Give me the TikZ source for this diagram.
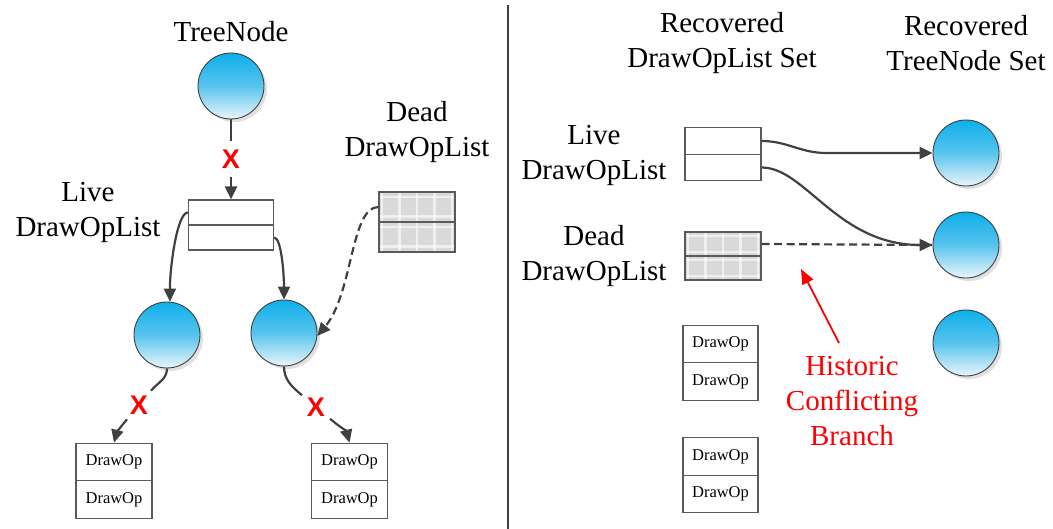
\documentclass[tikz,border=0pt]{standalone}
\usepackage{fontspec}
\setmainfont{Liberation Serif}
\newfontfamily\markfont{Liberation Sans}
\usetikzlibrary{arrows.meta,shadows,calc}

\definecolor{edgegray}{HTML}{404040}
\definecolor{boxgray}{HTML}{5A5A5A}
\definecolor{deadfill}{HTML}{D9D9D9}
\definecolor{nodetop}{HTML}{0DAFEA}
\definecolor{nodemid}{HTML}{58C4EE}
\definecolor{nodebot}{HTML}{EAF5FA}

\tikzset{
  headtext/.style={align=center, font=\fontsize{29}{35}\selectfont, inner sep=0pt},
  redtext/.style={headtext, text=red},
  treenode/.style={circle, minimum size=66pt, inner sep=0pt, draw=edgegray,
    line width=0.9pt, top color=nodetop, bottom color=nodebot, middle color=nodemid,
    drop shadow={shadow xshift=3pt, shadow yshift=-3pt, fill=black, opacity=0.12}},
  listrow/.style={draw=boxgray, line width=1.2pt, fill=white, inner sep=0pt,
    minimum width=85pt, minimum height=25pt},
  oprow/.style={draw=boxgray, line width=1.2pt, fill=white, inner sep=0pt,
    minimum width=76pt, minimum height=37.5pt, font=\fontsize{16.5}{18}\selectfont},
  deadrow/.style={draw=boxgray, line width=1.2pt, fill=deadfill, inner sep=0pt,
    minimum width=76pt,
    path picture={
      \foreach \f in {0.04,0.27,0.5,0.73,0.96}
        \draw[white, line width=2.2pt, opacity=0.6]
          ($(path picture bounding box.south west)!\f!(path picture bounding box.south east)$) --
          ($(path picture bounding box.north west)!\f!(path picture bounding box.north east)$);
      \foreach \f in {0.18,0.82}
        \draw[white, line width=2.2pt, opacity=0.6]
          ($(path picture bounding box.south west)!\f!(path picture bounding box.north west)$) --
          ($(path picture bounding box.south east)!\f!(path picture bounding box.north east)$);
    }},
  xmark/.style={font=\markfont\bfseries\fontsize{27}{27}\selectfont, text=red,
    inner sep=0pt, outer sep=5pt},
  link/.style={draw=edgegray, line width=2.2pt},
  conn/.style={link, -{Triangle[length=13pt,width=12pt]}},
  deadlink/.style={link, dash pattern=on 8pt off 4.5pt},
  deadconn/.style={conn, dash pattern=on 8pt off 4.5pt},
  redconn/.style={draw=red, line width=1.8pt, -{Triangle[length=15pt,width=12pt]}},
  divider/.style={draw=edgegray, line width=1.3pt}
}

\begin{document}
\begin{tikzpicture}[x=1pt, y=1pt]
\useasboundingbox (0,0) rectangle (1053,529);

% ---------- left half: the live tree ----------
\node[headtext] (tnlabel) at (231,497) {TreeNode};
\node[treenode] (tn) at (231,443) {};
\node[xmark, outer sep=9pt] (x1) at (231,370) {X};

\node[listrow] (la) at (231,316.5) {};
\node[listrow] (lb) at (231,291.5) {};
\node[headtext] (livel) at (88,316.5) {Live\\DrawOpList};

\node[headtext] (deadl) at (417,397) {Dead\\DrawOpList};
\node[deadrow, minimum height=30pt] (dda) at (417,322) {};
\node[deadrow, minimum height=30pt] (ddb) at (417,292) {};

\node[treenode] (c1) at (167,194) {};
\node[treenode] (c2) at (284,196) {};

\node[xmark] (x2) at (139,124) {X};
\node[xmark] (x3) at (316,122) {X};

\node[oprow] (d1a) at (114,67) {DrawOp};
\node[oprow] (d1b) at (114,29.5) {DrawOp};
\node[oprow] (d2a) at (349.5,67) {DrawOp};
\node[oprow] (d2b) at (349.5,29.5) {DrawOp};

\draw[link] (tn) -- (x1);
\draw[conn] (x1) -- (la);
\draw[conn] (la.west) to[out=180, in=90, out looseness=0.3] (c1.85);
\draw[conn] (lb.east) to[out=0, in=90, out looseness=0.3] (c2.north);
\draw[deadconn] (dda.west) to[out=180, in=50, out looseness=0.5] (c2.-5);
\draw[link] (c1.south) to[out=-90, in=50] (x2);
\draw[conn] (x2) to[out=230, in=75] (d1a.north);
\draw[link] (c2.south) to[out=-90, in=140] (x3);
\draw[conn] (x3) to[out=-40, in=105] (d2a.north);

% ---------- separator ----------
\coordinate (divtop) at (508,524);
\coordinate (divbot) at (508,0);
\draw[divider] (divtop) -- (divbot);

% ---------- right half: recovered sets ----------
\node[headtext] (hdl) at (722,485.5) {Recovered\\DrawOpList Set};
\node[headtext] (htn) at (966,485.5) {Recovered\\TreeNode Set};

\node[headtext] (livel2) at (594,373.5) {Live\\DrawOpList};
\node[listrow, minimum width=76pt, minimum height=26.5pt] (ra) at (723,388) {};
\node[listrow, minimum width=76pt, minimum height=26.5pt] (rb) at (723,361.5) {};

\node[headtext] (deadl2) at (594,272.5) {Dead\\DrawOpList};
\node[deadrow, minimum height=24pt] (rda) at (723,285) {};
\node[deadrow, minimum height=24pt] (rdb) at (723,261) {};

\node[treenode] (r1) at (966,376) {};
\node[treenode] (r2) at (966,284) {};
\node[treenode] (r3) at (966,186) {};

\node[oprow, minimum width=75pt] (e1a) at (720.5,185) {DrawOp};
\node[oprow, minimum width=75pt] (e1b) at (720.5,147.5) {DrawOp};
\node[oprow, minimum width=75pt] (e2a) at (720.5,72.5) {DrawOp};
\node[oprow, minimum width=75pt] (e2b) at (720.5,35) {DrawOp};

\coordinate (bend1) at (826,376);
\draw[conn] (ra.east) to[out=0, in=180] (bend1) -- (r1.west);
\draw[deadlink] (rda.east) -- (r2.west);
\draw[conn] (rb.east) to[out=0, in=180, out looseness=0.6, in looseness=1.3] (r2.west);

\node[redtext] (hist) at (852,128) {Historic\\Conflicting\\Branch};
\coordinate (hcTail) at (839,186);
\coordinate (hcTip) at (801,260);
\draw[redconn] (hcTail) -- (hcTip);
\end{tikzpicture}
\end{document}
